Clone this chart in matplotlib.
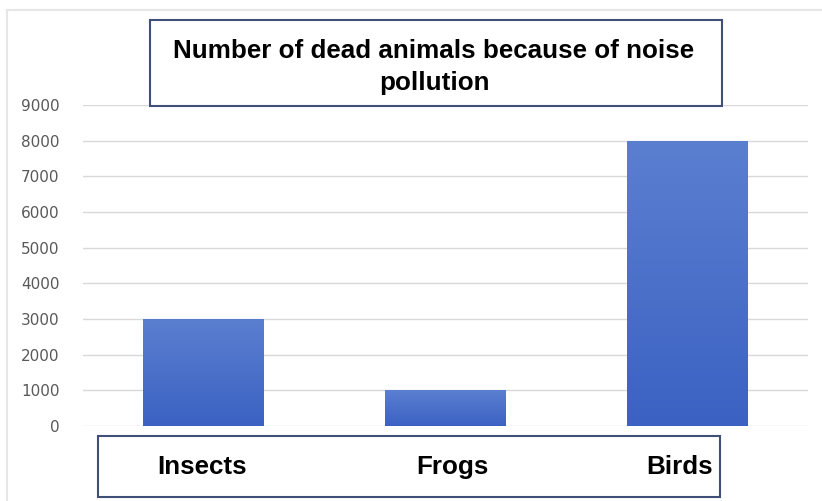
import numpy as np
import matplotlib.pyplot as plt
from matplotlib.patches import Rectangle
from matplotlib.lines import Line2D

categories = ["Insects", "Frogs", "Birds"]
dead_counts = [3000, 1000, 8000]
y_ticks = [0, 1000, 2000, 3000, 4000, 5000, 6000, 7000, 8000, 9000]
title = "Number of dead animals because of noise\npollution"

label_font = ["Liberation Sans", "DejaVu Sans"]

W, H = 822, 501
fig = plt.figure(figsize=(W / 100, H / 100), dpi=100)
ax = fig.add_axes([83 / W, 1 - 426 / H, 725 / W, 321 / H])

x = np.arange(len(categories))
bars = ax.bar(x, dead_counts, width=0.5, color="#4a6fcb", zorder=2)

# vertical gradient inside each bar (lighter at top)
grad = np.linspace(0, 1, 256).reshape(-1, 1)
cmap = plt.matplotlib.colors.LinearSegmentedColormap.from_list("g", ["#3b62c3", "#5b7fd0"])
for b in bars:
    x0, w, h = b.get_x(), b.get_width(), b.get_height()
    im = ax.imshow(grad, cmap=cmap, aspect="auto", origin="lower",
                   extent=[x0, x0 + w, 0, h], zorder=3)
    im.set_clip_path(b)

ax.set_xlim(-0.5, len(categories) - 0.5)
ax.set_ylim(0, 9000)
ax.set_yticks(y_ticks)
ax.set_yticklabels([str(t) for t in y_ticks], color="#595959", fontsize=11)
ax.tick_params(axis="y", length=0, pad=17)
ax.set_xticks([])
ax.grid(axis="y", color="#d9d9d9", linewidth=1, zorder=0)
ax.set_axisbelow(True)
for s in ax.spines.values():
    s.set_visible(False)

# faint outer frame of the chart area
fig.lines.append(Line2D([7 / W, 1], [1 - 10 / H, 1 - 10 / H], transform=fig.transFigure,
                        color="#e6e6e6", linewidth=1.5))
fig.lines.append(Line2D([7 / W, 7 / W], [0, 1 - 10 / H], transform=fig.transFigure,
                        color="#e6e6e6", linewidth=1.5))

# title box
fig.patches.append(Rectangle((150 / W, 1 - 106 / H), 572 / W, 86 / H,
                             transform=fig.transFigure, facecolor="white",
                             edgecolor="#3f4f78", linewidth=1.5, zorder=5))
fig.text(434 / W, 1 - 67 / H, title, ha="center", va="center",
         fontsize=18.7, fontweight="bold", family=label_font, linespacing=1.45, zorder=6)

# category label box (labels sit slightly off the bar centres, as in the source)
fig.patches.append(Rectangle((98 / W, 1 - 497 / H), 622 / W, 61 / H,
                             transform=fig.transFigure, facecolor="white",
                             edgecolor="#3f4f78", linewidth=1.5, zorder=5))
label_px = [202, 452, 680]
for name, px in zip(categories, label_px):
    fig.text(px / W, 1 - 474 / H, name, ha="center", va="baseline",
             fontsize=18.7, fontweight="bold", family=label_font, zorder=6)

fig.savefig("out.png", dpi=100)
